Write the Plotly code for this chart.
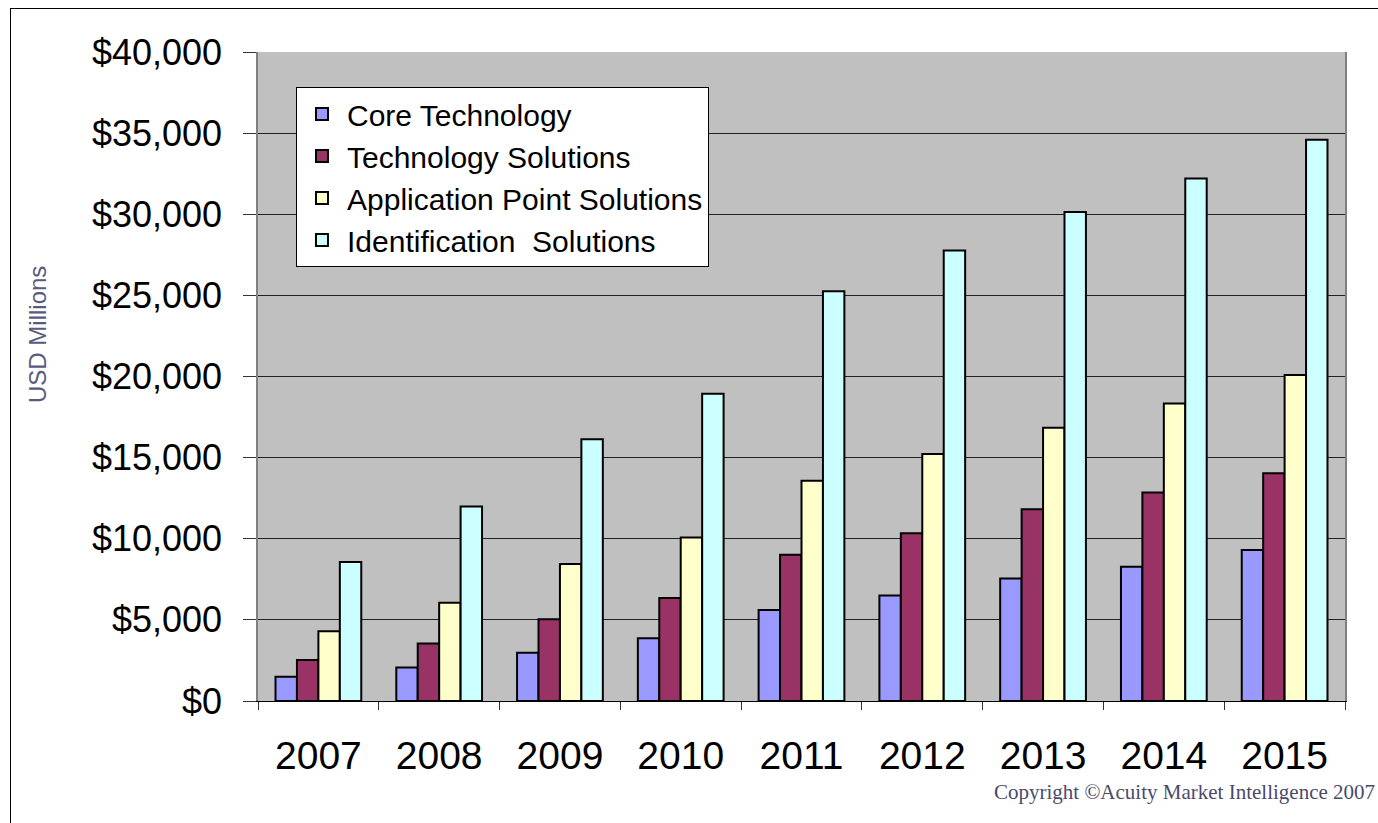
import plotly.graph_objects as go

years = ["2007", "2008", "2009", "2010", "2011", "2012", "2013", "2014", "2015"]
core_technology = [1500, 2070, 2980, 3870, 5610, 6510, 7550, 8270, 9310]
technology_solutions = [2530, 3550, 5040, 6350, 9020, 10340, 11820, 12850, 14040]
application_point_solutions = [4300, 6060, 8450, 10070, 13580, 15230, 16840, 18340, 20100]
identification_solutions = [8570, 11980, 16130, 18930, 25250, 27760, 30140, 32200, 34590]

series_names = ["Core Technology", "Technology Solutions",
                "Application Point Solutions", "Identification\u00a0 Solutions"]
series_values = [core_technology, technology_solutions,
                 application_point_solutions, identification_solutions]
series_colors = ["#9999FF", "#993366", "#FFFFCC", "#CCFFFF"]

y_tickvals = [0, 5000, 10000, 15000, 20000, 25000, 30000, 35000, 40000]
y_ticktext = ["$0", "$5,000", "$10,000", "$15,000", "$20,000",
              "$25,000", "$30,000", "$35,000", "$40,000"]

fig = go.Figure()
for name, vals, col in zip(series_names, series_values, series_colors):
    fig.add_trace(go.Bar(
        x=years, y=vals, name=name,
        marker=dict(color=col, line=dict(color="black", width=2)),
    ))

W, H = 1378, 823
PL, PR, PT, PB = 258, 1345, 52, 701   # plot area in reference pixels
L, T, R, B = PL, PT, W - PR, H - PB
pw = PR - PL
ph = PB - PT

def px_x(x):
    return (x - PL) / pw

def px_y(y):
    return (PB - y) / ph

fig.update_layout(
    width=W, height=H,
    margin=dict(l=L, r=R, t=T, b=B, pad=0),
    paper_bgcolor="white",
    plot_bgcolor="#C0C0C0",
    barmode="group",
    bargap=0.29,
    bargroupgap=0,
    font=dict(family="Liberation Sans, Arial, sans-serif", color="black"),
    showlegend=True,
    legend=dict(
        x=px_x(296), y=px_y(87), xanchor="left", yanchor="top",
        bgcolor="white", bordercolor="black", borderwidth=1,
        font=dict(size=30, color="black"),
        tracegroupgap=0,
        itemsizing="constant",
        itemwidth=40,
    ),
    xaxis=dict(
        type="category",
        tickson="boundaries",
        ticks="outside", ticklen=8, tickcolor="#333333", tickwidth=1,
        showline=True, linecolor="black", linewidth=1,
        showgrid=False,
        tickfont=dict(size=39, color="black"),
        ticklabelstandoff=20,
    ),
    yaxis=dict(
        range=[0, 40000],
        tickvals=y_tickvals, ticktext=y_ticktext,
        ticks="outside", ticklen=13, tickcolor="#333333", tickwidth=1,
        showline=True, linecolor="#808080", linewidth=1.5, mirror=True,
        showgrid=True, gridcolor="#222222", gridwidth=1,
        tickfont=dict(size=36, color="black"),
        ticklabelstandoff=14,
        zeroline=False,
    ),
    annotations=[
        dict(
            text="USD Millions", textangle=-90,
            xref="paper", yref="paper",
            x=px_x(37), y=px_y(335), xanchor="center", yanchor="middle",
            showarrow=False,
            font=dict(size=24, color="#5A5A80", family="Liberation Sans, Arial, sans-serif"),
        ),
        dict(
            text="Copyright \u00a9Acuity Market Intelligence 2007",
            xref="paper", yref="paper",
            x=px_x(1377), y=px_y(806), xanchor="right", yanchor="bottom",
            showarrow=False,
            font=dict(size=21, color="#4A4A6A", family="Liberation Serif, Times New Roman, serif"),
        ),
    ],
    shapes=[
        dict(type="line", xref="paper", yref="paper",
             x0=px_x(10), x1=px_x(1378), y0=px_y(8.5), y1=px_y(8.5),
             line=dict(color="black", width=1)),
        dict(type="line", xref="paper", yref="paper",
             x0=px_x(10.5), x1=px_x(10.5), y0=px_y(8), y1=px_y(823),
             line=dict(color="black", width=1)),
    ],
)

fig.write_html(
    "out.html",
    config={"displayModeBar": False},
    post_script="document.body.style.margin='0';document.body.style.overflow='hidden';",
)
